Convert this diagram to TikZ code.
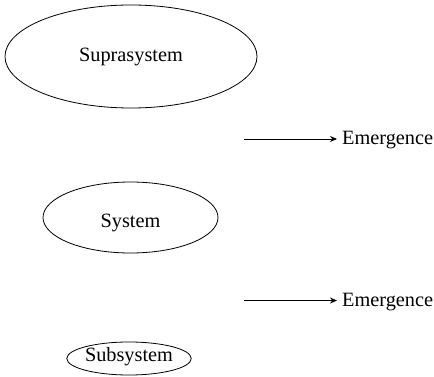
\documentclass[tikz,border=0pt]{standalone}
\usepackage{fontspec}
\setmainfont{Liberation Serif}
\usetikzlibrary{shapes.geometric,arrows.meta}
\begin{document}
\begin{tikzpicture}[x=1pt,y=-1pt,
  level/.style={draw,ellipse,line width=0.8pt,inner sep=0pt,
    font=\fontsize{20.3}{24}\selectfont},
  tag/.style={anchor=base west,inner xsep=5pt,inner ysep=0pt,
    font=\fontsize{20.3}{24}\selectfont},
  arr/.style={line width=0.8pt,-{Stealth[length=7pt,width=6pt]}}]
\useasboundingbox (0,0) rectangle (434,377);
% system levels
\node[level,minimum width=252pt,minimum height=103pt,
  text height=15pt,text depth=4pt] (supra) at (131,56.5) {Suprasystem};
\node[level,minimum width=175pt,minimum height=71pt,
  text height=19pt,text depth=0pt] (sys) at (130.5,217.5) {System};
\node[level,minimum width=108pt,minimum height=33pt,
  text height=10pt,text depth=5pt] (sub) at (129,358.5) {Subsystem};
% emergence between levels
\node[tag] (em1) at (337,144.5) {Emergence};
\node[tag] (em2) at (337,306) {Emergence};
\coordinate (a1) at (244,139);
\coordinate (a2) at (244,300.5);
\draw[arr] (a1) -- (a1 -| em1.west);
\draw[arr] (a2) -- (a2 -| em2.west);
\end{tikzpicture}
\end{document}
